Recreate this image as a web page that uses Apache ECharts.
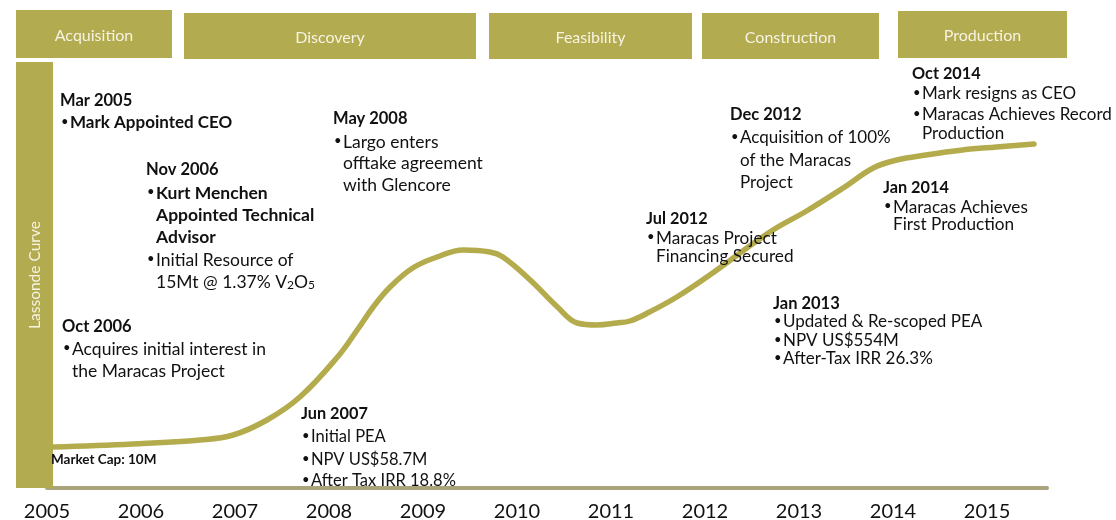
<!DOCTYPE html>
<html><head><meta charset="utf-8">
<script src="https://cdn.jsdelivr.net/npm/echarts@6/dist/echarts.min.js"></script>
<style>html,body{margin:0;padding:0;background:#fff}#c{width:1116px;height:520px}</style>
</head><body><div id="c"></div>
<script>
// ---- data ----
const yearLabels = ['2005','2006','2007','2008','2009','2010','2011','2012','2013','2014','2015'];
const curveYears = [2005.06,2005.91,2006.63,2006.98,2007.34,2007.69,2008.09,2008.30,2008.47,2008.65,2008.89,2009.15,2009.43,2009.71,2009.85,2010.14,2010.43,2010.64,2010.85,2011.06,2011.20,2011.41,2011.70,2012.05,2012.69,2013.08,2013.47,2013.79,2014.04,2014.35,2014.74,2015.10,2015.50];
const curveValues = [41,44,48,53,68,91,131,158,181,201,220,231,238,236,231,208,181,165,163,165,167,176,191,213,256,277,300,320,328,333,338,341,344];
const phaseNames = ['Acquisition','Discovery','Feasibility','Construction','Production'];
const sideTitle = 'Lassonde Curve';
const marketCapNote = 'Market Cap: 10M';
const noteHeads = ['Mar 2005','Nov 2006','Oct 2006','May 2008','Jun 2007','Jul 2012','Dec 2012','Jan 2014','Oct 2014','Jan 2013'];
// each line: [isBullet, text, isBold]
const noteLines = [
  [[1,'Mark Appointed CEO',1]],
  [[1,'Kurt Menchen',1],[0,'Appointed Technical',1],[0,'Advisor',1],[1,'Initial Resource of',0],[0,'15Mt @ 1.37% V{s|2}O{s|5}',0]],
  [[1,'Acquires initial interest in',0],[0,'the Maracas Project',0]],
  [[1,'Largo enters',0],[0,'offtake agreement',0],[0,'with Glencore',0]],
  [[1,'Initial PEA',0],[1,'NPV US$58.7M',0],[1,'After Tax IRR 18.8%',0]],
  [[1,'Maracas Project',0],[0,'Financing Secured',0]],
  [[1,'Acquisition of 100%',0],[0,'of the Maracas',0],[0,'Project',0]],
  [[1,'Maracas Achieves',0],[0,'First Production',0]],
  [[1,'Mark resigns as CEO',0],[1,'Maracas Achieves Record',0],[0,'Production',0]],
  [[1,'Updated & Re-scoped PEA',0],[1,'NPV US$554M',0],[1,'After-Tax IRR 26.3%',0]]
];

// ---- layout / style ----
const FONT = 'Lato, "Open Sans", sans-serif';
const OLIVE = '#b3ab4f';
const phaseRects = [[16,10,156,48,36],[184,13,292,46,38],[489,13,203,46,38],[702,13,177,46,38],[898,11,169,47,36]];
const noteLayout = [
  {x:60, ys:[101,123], hs:16.5, fs:17},
  {x:146, ys:[170,193,215,237,260,282], hs:16.5, fs:17.5},
  {x:62, ys:[327,349,371], hs:16.5, fs:17.5},
  {x:333, ys:[119,142,163,185], hs:16.5, fs:17.5},
  {x:301, ys:[414,437,460,481], hs:16.3, fs:16.5},
  {x:646, ys:[219,238,256], hs:16.3, fs:17.2},
  {x:730, ys:[115,138,161,183], hs:16.5, fs:17},
  {x:883, ys:[188,207,224], hs:16.3, fs:17.2},
  {x:912, ys:[74,94,115,134], hs:16.3, fs:17},
  {x:773, ys:[304,322,341,359], hs:16.5, fs:17}
];

const graphic = [];
phaseNames.forEach((name, i) => {
  const r = phaseRects[i];
  graphic.push({type:'rect', shape:{x:r[0], y:r[1], width:r[2], height:r[3]}, style:{fill:OLIVE}, z:1});
  graphic.push({type:'text', x:r[0]+r[2]/2, y:r[4], style:{text:name, fill:'#f6f3e2', font:'16px '+FONT, align:'center', verticalAlign:'middle'}, z:2});
});
graphic.push({type:'rect', shape:{x:16, y:62, width:37, height:426}, style:{fill:OLIVE}, z:1});
graphic.push({type:'text', x:35, y:275, rotation:Math.PI/2, style:{text:sideTitle, fill:'#f6f3e2', font:'15.5px '+FONT, align:'center', verticalAlign:'middle'}, z:2});
graphic.push({type:'text', x:51, y:460, style:{text:marketCapNote, fill:'#111', font:'bold 13.5px '+FONT, align:'left', verticalAlign:'middle'}, z:3});

noteHeads.forEach((head, i) => {
  const L = noteLayout[i];
  graphic.push({type:'text', x:L.x, y:L.ys[0], style:{text:head, fill:'#111', font:'bold '+L.hs+'px '+FONT, align:'left', verticalAlign:'middle'}, z:3});
  noteLines[i].forEach((ln, j) => {
    const y = L.ys[j+1];
    const fnt = (ln[2] ? 'bold ' : '') + L.fs + 'px ' + FONT;
    if (ln[0]) graphic.push({type:'text', x:L.x+1, y:y-1, style:{text:'•', fill:'#111', font:'13px '+FONT, align:'left', verticalAlign:'middle'}, z:3});
    graphic.push({type:'text', x:L.x+10, y:y, style:{text:ln[1], fill:'#111', font:fnt, align:'left', verticalAlign:'middle',
      rich:{s:{fontSize:12, fontFamily:FONT, fill:'#111', verticalAlign:'bottom', lineHeight:12}}}, z:3});
  });
});

const chart = echarts.init(document.getElementById('c'), null, {renderer:'canvas'});
chart.setOption({
  animation:false,
  backgroundColor:'#fff',
  grid:{left:47, right:69, top:62, bottom:32, containLabel:false, outerBoundsMode:'none'},
  xAxis:{type:'value', min:2005, max:2015.638, interval:1,
    axisLine:{show:true, lineStyle:{color:'#a8a57d', width:4}},
    axisTick:{show:false}, splitLine:{show:false},
    axisLabel:{show:true, margin:14, color:'#111', fontSize:20, fontFamily:FONT, showMaxLabel:false,
      formatter:v => (Math.abs(v-Math.round(v))<1e-6 ? (yearLabels[Math.round(v)-2005]||'') : '')}},
  yAxis:{type:'value', min:0, max:426, show:false, splitLine:{show:false}},
  series:[{type:'line', data:curveYears.map((x,i)=>[x,curveValues[i]]), smooth:0.4, symbol:'none',
    lineStyle:{color:'#b4ac4c', width:5.5, cap:'round'}, z:2}],
  graphic: graphic
});
</script></body></html>
